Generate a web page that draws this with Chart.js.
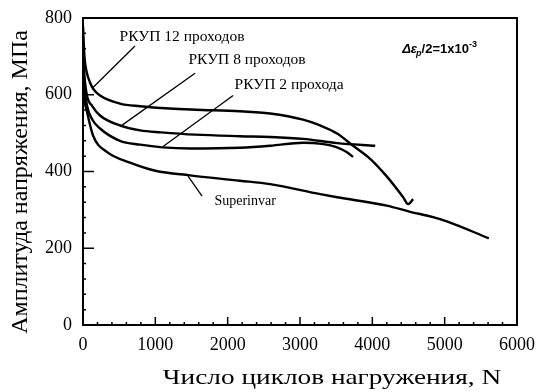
<!DOCTYPE html>
<html>
<head>
<meta charset="utf-8">
<script src="https://cdn.jsdelivr.net/npm/chart.js@4/dist/chart.umd.min.js"></script>
<style>
  html, body { margin: 0; padding: 0; background: #fff; }
  #wrap { width: 541px; height: 392px; }
</style>
</head>
<body>
<div id="wrap"><canvas id="fatigueChart" width="541" height="392"></canvas></div>
<script>
// Cycles (N) and stress amplitude (MPa) for each material state
const cyclesP12 = [0, 20, 50, 97, 143, 235, 510, 790, 1200, 1550, 2170, 2587, 3043, 3278, 3513, 3734, 3970, 4205, 4426, 4495, 4564];
const stressP12 = [780, 700, 660, 632, 615, 598, 577, 570, 564, 561, 557, 551, 535, 520, 499, 467, 433, 386, 333, 315, 328];

const cyclesP8 = [0, 20, 55, 130, 235, 510, 790, 1080, 1550, 2170, 2587, 3043, 3513, 4040];
const stressP8 = [720, 650, 598, 570, 546, 520, 507, 502, 496, 492, 490, 485, 474, 467];

const cyclesP2 = [0, 20, 55, 130, 235, 510, 790, 1100, 1480, 2170, 2587, 3043, 3300, 3513, 3650, 3734];
const stressP2 = [680, 620, 572, 535, 512, 480, 470, 463, 460, 462, 467, 475, 472, 463, 450, 438];

const cyclesInvar = [0, 20, 55, 140, 330, 650, 1000, 1480, 2170, 2587, 3280, 3513, 4200, 4523, 4840, 5030, 5610];
const stressInvar = [650, 590, 556, 493, 451, 423, 402, 390, 376, 367, 341, 333, 311, 295, 281, 270, 226];

const seriesNames = ['РКУП 12 проходов', 'РКУП 8 проходов', 'РКУП 2 прохода', 'Superinvar'];

// Callout labels: text position and leader line [from, to] in data units
const labelText = seriesNames;
const labelAt = [[1369, 751], [2268, 690], [2849, 625], [2241, 323]];
const leaderFrom = [[719, 727], [1549, 656], [2075, 598], [1452, 388]];
const leaderTo = [[138, 619], [512, 517], [1107, 465], [1646, 336]];
const labelSize = [15.5, 15.5, 15.5, 14];

const xTicks = [0, 1000, 2000, 3000, 4000, 5000, 6000];
const yTicks = [0, 200, 400, 600, 800];

const xTitle = 'Число циклов нагружения, N';
const yTitle = 'Амплитуда напряжения, МПа';

const toPoints = (xs, ys) => xs.map((x, i) => ({ x: x, y: ys[i] }));

const serif = "'Liberation Serif', 'Times New Roman', serif";

// frame, inward tick marks, axis titles and callouts
const decorations = {
  id: 'decorations',
  afterDatasetsDraw(chart) {
    const { ctx, chartArea: a, scales: { x, y } } = chart;
    ctx.save();
    ctx.strokeStyle = '#000';
    ctx.lineWidth = 2;
    ctx.strokeRect(a.left, a.top, a.right - a.left, a.bottom - a.top);

    ctx.lineWidth = 1.5;
    ctx.beginPath();
    for (let v = 0; v <= 6000; v += 200) {
      const px = x.getPixelForValue(v);
      const len = v % 1000 === 0 ? 8 : 3;
      ctx.moveTo(px, a.bottom);
      ctx.lineTo(px, a.bottom - len);
    }
    for (let v = 0; v <= 800; v += 40) {
      const py = y.getPixelForValue(v);
      const len = v % 200 === 0 ? 11 : 3;
      ctx.moveTo(a.left, py);
      ctx.lineTo(a.left + len, py);
    }
    ctx.stroke();

    ctx.fillStyle = '#000';
    ctx.textAlign = 'center';
    ctx.textBaseline = 'middle';

    // axis titles (the x title is set wide)
    ctx.font = '21px ' + serif;
    ctx.save();
    ctx.translate(332, 378);
    ctx.scale(1.3, 1);
    ctx.fillText(xTitle, 0, 0);
    ctx.restore();
    ctx.font = '24px ' + serif;
    ctx.save();
    ctx.translate(21, 182);
    ctx.rotate(-Math.PI / 2);
    ctx.fillText(yTitle, 0, 0);
    ctx.restore();

    // leader lines and labels
    ctx.lineWidth = 1.3;
    labelText.forEach((t, i) => {
      ctx.beginPath();
      ctx.moveTo(x.getPixelForValue(leaderFrom[i][0]), y.getPixelForValue(leaderFrom[i][1]));
      ctx.lineTo(x.getPixelForValue(leaderTo[i][0]), y.getPixelForValue(leaderTo[i][1]));
      ctx.stroke();
      ctx.font = labelSize[i] + 'px ' + serif;
      ctx.fillText(t, x.getPixelForValue(labelAt[i][0]), y.getPixelForValue(labelAt[i][1]));
    });

    // strain amplitude note
    let px = x.getPixelForValue(4412);
    const py = y.getPixelForValue(717);
    ctx.textAlign = 'left';
    ctx.font = "italic bold 13px 'Liberation Sans', Arial, sans-serif";
    ctx.fillText('Δε', px, py);
    px += ctx.measureText('Δε').width;
    ctx.font = "italic bold 9px 'Liberation Sans', Arial, sans-serif";
    ctx.fillText('p', px - 1, py + 4);
    px += ctx.measureText('p').width - 1;
    ctx.font = "bold 13px 'Liberation Sans', Arial, sans-serif";
    ctx.fillText('/2=1x10', px, py);
    px += ctx.measureText('/2=1x10').width;
    ctx.font = "bold 9px 'Liberation Sans', Arial, sans-serif";
    ctx.fillText('-3', px, py - 5);
    ctx.restore();
  }
};

const lineStyle = {
  borderColor: '#000',
  borderWidth: 2.4,
  pointRadius: 0,
  fill: false,
  cubicInterpolationMode: 'monotone'
};

new Chart(document.getElementById('fatigueChart'), {
  type: 'line',
  data: {
    datasets: [
      { label: seriesNames[0], data: toPoints(cyclesP12, stressP12), ...lineStyle },
      { label: seriesNames[1], data: toPoints(cyclesP8, stressP8), ...lineStyle },
      { label: seriesNames[2], data: toPoints(cyclesP2, stressP2), ...lineStyle },
      { label: seriesNames[3], data: toPoints(cyclesInvar, stressInvar), ...lineStyle }
    ]
  },
  options: {
    responsive: false,
    animation: false,
    layout: { padding: { top: 18, right: 24, left: 0, bottom: 0 } },
    plugins: {
      legend: { display: false },
      tooltip: { enabled: false }
    },
    scales: {
      x: {
        type: 'linear',
        min: 0,
        max: 6000,
        afterBuildTicks: s => { s.ticks = xTicks.map(v => ({ value: v })); },
        afterFit: s => { s.height = 67; },
        grid: { display: false },
        border: { display: false },
        ticks: {
          color: '#000',
          font: { family: serif, size: 18 },
          padding: 1,
          maxRotation: 0,
          callback: v => String(v)
        }
      },
      y: {
        type: 'linear',
        min: 0,
        max: 800,
        afterBuildTicks: s => { s.ticks = yTicks.map(v => ({ value: v })); },
        afterFit: s => { s.width = 83; },
        grid: { display: false },
        border: { display: false },
        ticks: {
          color: '#000',
          font: { family: serif, size: 18 },
          padding: 3,
          callback: v => String(v)
        }
      }
    }
  },
  plugins: [decorations]
});
</script>
</body>
</html>
